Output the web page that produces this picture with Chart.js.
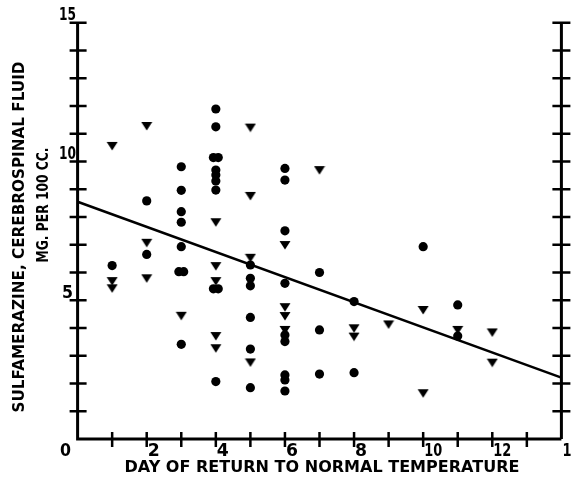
<!DOCTYPE html>
<html>
<head>
<meta charset="utf-8">
<script src="https://cdn.jsdelivr.net/npm/chart.js@4.4.1/dist/chart.umd.min.js"></script>
<style>
  html, body { margin: 0; padding: 0; background: #fff; }
  #wrap { width: 572px; height: 480px; }
</style>
</head>
<body>
<div id="wrap"><canvas id="chart" width="572" height="480"></canvas></div>
<script>
// day of return to normal temperature vs sulfamerazine level (mg per 100 cc)
const circleDays = [
  1,
  2, 2,
  3, 3, 3, 3, 3, 2.93, 3.07, 3,
  4, 4, 3.93, 4.07, 4, 4, 4, 4, 3.93, 4.07, 4,
  5, 5, 5, 5, 5, 5,
  6, 6, 6, 6, 6, 6, 6, 6, 6,
  7, 7, 7,
  8, 8,
  10,
  11, 11,
];
const circleLevels = [
  6.25,
  8.58, 6.65,
  9.81, 8.96, 8.19, 7.81, 6.93, 6.03, 6.03, 3.41,
  11.89, 11.25, 10.14, 10.14, 9.69, 9.51, 9.3, 8.97, 5.41, 5.41, 2.07,
  6.27, 5.79, 5.52, 4.38, 3.24, 1.85,
  9.75, 9.33, 7.5, 5.61, 3.75, 3.51, 2.31, 2.13, 1.73,
  6.0, 3.93, 2.34,
  4.95, 2.39,
  6.93,
  4.83, 3.71,
];
const triangleDays = [
  1, 1, 1,
  2, 2, 2,
  3,
  4, 4, 4, 4, 4,
  5, 5, 5, 5,
  6, 6, 6, 6,
  7,
  8, 8,
  9,
  10, 10,
  11,
  12, 12,
];
const triangleLevels = [
  10.56, 5.69, 5.43,
  11.28, 7.07, 5.79,
  4.44,
  7.81, 6.23, 5.69, 3.71, 3.27,
  11.22, 8.76, 6.53, 2.76,
  6.99, 4.75, 4.43, 3.93,
  9.69,
  3.99, 3.69,
  4.13,
  4.65, 1.65,
  3.93,
  3.84, 2.75,
];
const fitLineDays = [0, 14];
const fitLineLevels = [8.55, 2.21];

const xTickValues = [0, 2, 4, 6, 8, 10, 12, 14];
const yTickValues = [0, 5, 10, 15];

const xTitle = "DAY OF RETURN TO NORMAL TEMPERATURE";
const yTitle = "SULFAMERAZINE, CEREBROSPINAL FLUID";
const yTitle2 = "MG. PER 100 CC.";

function toPoints(xs, ys) {
  return xs.map((x, i) => ({ x, y: ys[i] }));
}

// flat down-pointing triangle used as the point marker
function makeTriangle() {
  const c = document.createElement("canvas");
  c.width = 12;
  c.height = 10;
  const g = c.getContext("2d");
  g.fillStyle = "#000";
  g.beginPath();
  g.moveTo(0.5, 1);
  g.lineTo(11.5, 1);
  g.lineTo(6, 9.5);
  g.closePath();
  g.fill();
  return c;
}

// squeeze bold text into a given width, cap height sets the size
function fitText(ctx, text, cx, cy, width, capH, angle = 0) {
  const size = capH / 0.73;
  ctx.save();
  ctx.font = `bold ${size}px "DejaVu Sans"`;
  const w = ctx.measureText(text).width;
  ctx.translate(cx, cy);
  ctx.rotate(angle);
  ctx.scale(width / w, 1);
  ctx.textAlign = "center";
  ctx.textBaseline = "middle";
  ctx.fillStyle = "#000";
  ctx.fillText(text, 0, 0);
  ctx.restore();
}

const paperAxes = {
  id: "paperAxes",
  afterDraw(chart) {
    const ctx = chart.ctx;
    const xs = chart.scales.x;
    const ys = chart.scales.y;
    const x0 = xs.getPixelForValue(0);
    const x14 = xs.getPixelForValue(14);
    const y0 = ys.getPixelForValue(0);
    const y15 = ys.getPixelForValue(15);

    ctx.save();
    ctx.strokeStyle = "#000";
    ctx.lineWidth = 3;
    ctx.lineCap = "butt";

    // left, bottom and right axis lines
    ctx.beginPath();
    ctx.moveTo(x0, y15);
    ctx.lineTo(x0, y0);
    ctx.lineTo(x14, y0);
    ctx.moveTo(x14, y0);
    ctx.lineTo(x14, y15);
    ctx.stroke();

    // ticks crossing the axes
    ctx.lineWidth = 2.5;
    ctx.beginPath();
    for (let v = 1; v <= 15; v++) {
      const py = ys.getPixelForValue(v);
      ctx.moveTo(x0 - 8, py);
      ctx.lineTo(x0 + 9, py);
      ctx.moveTo(x14 - 9, py);
      ctx.lineTo(x14 + 9, py);
    }
    for (let v = 1; v <= 13; v++) {
      const px = xs.getPixelForValue(v);
      ctx.moveTo(px, y0 - 7);
      ctx.lineTo(px, y0 + 8);
    }
    ctx.stroke();
    ctx.restore();

    // tick labels
    yTickValues.forEach((v) => {
      const py = ys.getPixelForValue(v);
      if (v === 0) return;
      const w = v >= 10 ? 17 : 11;
      fitText(ctx, String(v), x0 - 10, py - 7, w, 13);
    });
    xTickValues.forEach((v) => {
      const px = xs.getPixelForValue(v);
      const w = v >= 10 ? 18 : 12;
      if (v === 0) {
        fitText(ctx, "0", x0 - 12, y0 + 12, 11, 13);
        return;
      }
      fitText(ctx, String(v), px + 1 + w / 2, y0 + 12, w, 13);
    });

    // axis titles
    fitText(ctx, xTitle, 322, 468, 395, 11);
    fitText(ctx, yTitle, 20, 237, 351, 12, -Math.PI / 2);
    fitText(ctx, yTitle2, 44, 205, 115, 12, -Math.PI / 2);
  },
};

const chart = new Chart(document.getElementById("chart").getContext("2d"), {
  type: "scatter",
  data: {
    datasets: [
      {
        label: "circles",
        data: toPoints(circleDays, circleLevels),
        pointStyle: "circle",
        radius: 4.6,
        backgroundColor: "#000",
        borderColor: "#000",
        borderWidth: 0,
      },
      {
        label: "triangles",
        data: toPoints(triangleDays, triangleLevels),
        pointStyle: makeTriangle(),
        radius: 6,
        backgroundColor: "#000",
        borderColor: "#000",
        borderWidth: 0,
      },
      {
        type: "line",
        label: "fit",
        data: toPoints(fitLineDays, fitLineLevels),
        borderColor: "#000",
        borderWidth: 2.5,
        pointRadius: 0,
        fill: false,
      },
    ],
  },
  options: {
    responsive: false,
    animation: false,
    clip: false,
    layout: { padding: { left: 77.6, right: 10.6, top: 22.7, bottom: 41 } },
    scales: {
      x: { type: "linear", min: 0, max: 14, display: false },
      y: { type: "linear", min: 0, max: 15, display: false },
    },
    plugins: {
      legend: { display: false },
      tooltip: { enabled: false },
    },
  },
  plugins: [paperAxes],
});
</script>
</body>
</html>
